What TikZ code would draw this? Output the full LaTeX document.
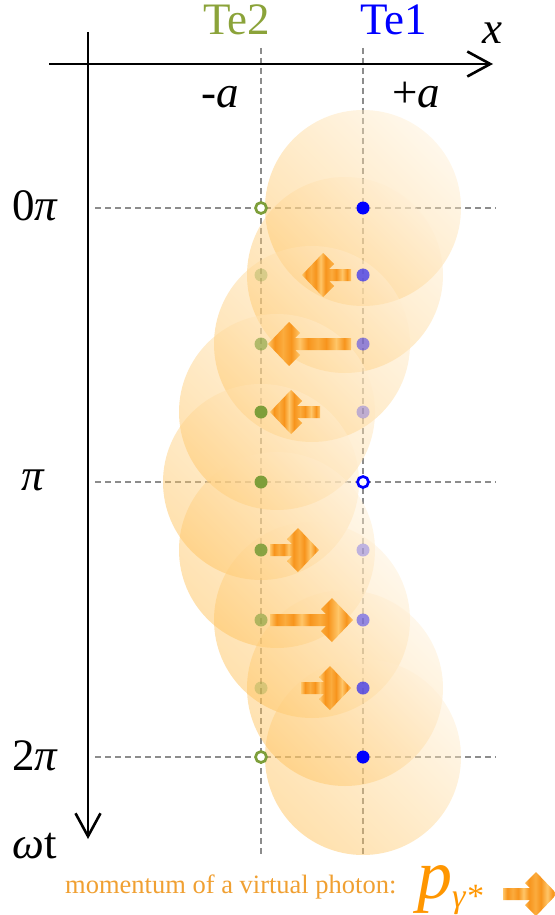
\documentclass[tikz,border=0pt]{standalone}
\usepackage{fontspec}
\setmainfont{Liberation Serif}
\usetikzlibrary{arrows.meta}
\definecolor{te2}{RGB}{125,158,58}
\definecolor{te2txt}{RGB}{139,163,58}
\definecolor{te1}{RGB}{0,0,255}
\definecolor{circA}{RGB}{255,188,75}
\definecolor{circB}{RGB}{255,238,210}
\definecolor{arA}{RGB}{247,148,28}
\definecolor{arB}{RGB}{255,198,105}
\definecolor{arC}{RGB}{251,172,62}
\definecolor{legtxt}{RGB}{240,160,50}
\definecolor{legp}{RGB}{255,150,0}
\definecolor{dashgray}{RGB}{140,140,140}
\pgfdeclarehorizontalshading{stripes}{100bp}{color(0bp)=(arB); color(25bp)=(arB); color(29bp)=(arA); color(34bp)=(arC); color(39bp)=(arA); color(44bp)=(arB); color(49bp)=(arA); color(55bp)=(arC); color(60bp)=(arA); color(66bp)=(arB); color(71bp)=(arA); color(75bp)=(arB); color(100bp)=(arB)}
\newcommand{\blockarr}[4]{% tip x, tip y, length, direction (1 right, -1 left)
  \begin{scope}[shift={(#1,#2)},xscale=#4]
    \shade[arrowshade] (0,0) -- (-21,-22) -- (-32,-11) -- (-27,-6) -- (-#3,-6) -- (-#3,6) -- (-27,6) -- (-32,11) -- (-21,22) -- cycle;
  \end{scope}}
\begin{document}
\begin{tikzpicture}[x=1pt,y=-1pt,
  axis/.style={line width=2.6pt,-{Straight Barb[length=23pt,width=25pt,line width=2.6pt]}},
  guide/.style={dashgray,line width=1.4pt,dash pattern=on 6pt off 4pt},
  cloud/.style={top color=circB,bottom color=circA,shading angle=-45,fill opacity=0.45},
  arrowshade/.style={shading=stripes},
  bdot/.style={circle,fill=te1,inner sep=0pt,minimum size=13pt},
  gdot/.style={circle,fill=te2,inner sep=0pt,minimum size=13pt},
  bopen/.style={circle,draw=te1,fill=white,line width=2.7pt,inner sep=0pt,minimum size=11pt},
  gopen/.style={circle,draw=te2,fill=white,line width=2.7pt,inner sep=0pt,minimum size=11pt},
  big/.style={inner sep=0pt,anchor=base,font=\fontsize{45}{45}\selectfont},
  legend/.style={inner sep=0pt,anchor=base west,text=legtxt,font=\fontsize{26.5}{26.5}\selectfont}]
\useasboundingbox (0,0) rectangle (554,915);
% guides
\coordinate (c2t) at (261,48); \coordinate (c2b) at (261,857);
\coordinate (c1t) at (363,48); \coordinate (c1b) at (363,857);
\coordinate (r0l) at (95,208); \coordinate (r0r) at (496,208);
\coordinate (r1l) at (95,482); \coordinate (r1r) at (496,482);
\coordinate (r2l) at (95,757); \coordinate (r2r) at (496,757);
\draw[guide] (c2t) -- (c2b);
\draw[guide] (c1t) -- (c1b);
\draw[guide] (r0l) -- (r0r);
\draw[guide] (r1l) -- (r1r);
\draw[guide] (r2l) -- (r2r);
% clouds
\foreach \cx/\cy in {363/208,345/275,312/344,277/412,261/482,277/550,312/620,345/688,363/757}
  \shade[cloud] (\cx,\cy) circle[radius=98];
% axes
\coordinate (hl) at (49,64); \coordinate (hr) at (493,64);
\coordinate (vt) at (88,32); \coordinate (vb) at (88,839);
\draw[axis] (hl) -- (hr);
\draw[axis] (vt) -- (vb);
% arrows
\blockarr{302}{275}{49}{-1}
\blockarr{268}{344}{83}{-1}
\blockarr{270}{412}{50}{-1}
\blockarr{319}{550}{49}{1}
\blockarr{353}{620}{83}{1}
\blockarr{351}{688}{50}{1}
% Te1 dots
\node[bdot] (b0) at (363,208) {};
\node[bdot,opacity=0.58] (b1) at (363,275) {};
\node[bdot,opacity=0.42] (b2) at (363,344) {};
\node[bdot,opacity=0.25] (b3) at (363,412) {};
\node[bopen] (b4) at (363,482) {};
\node[bdot,opacity=0.25] (b5) at (363,550) {};
\node[bdot,opacity=0.42] (b6) at (363,620) {};
\node[bdot,opacity=0.58] (b7) at (363,688) {};
\node[bdot] (b8) at (363,757) {};
% Te2 dots
\node[gopen] (g0) at (261,208) {};
\node[gdot,opacity=0.3] (g1) at (261,275) {};
\node[gdot,opacity=0.6] (g2) at (261,344) {};
\node[gdot] (g3) at (261,412) {};
\node[gdot] (g4) at (261,482) {};
\node[gdot,opacity=0.9] (g5) at (261,550) {};
\node[gdot,opacity=0.6] (g6) at (261,620) {};
\node[gdot,opacity=0.3] (g7) at (261,688) {};
\node[gopen] (g8) at (261,757) {};
% labels
\node[big,text=te2txt] (lte2) at (237,35) {Te2};
\node[big,text=te1] (lte1) at (394,35) {Te1};
\node[big] (lx) at (492,44) {\itshape x};
\node[big] (lma) at (220,108) {-\itshape a};
\node[big] (lpa) at (416,108) {+\itshape a};
\node[big] (l0) at (35,220) {0\itshape π};
\node[big] (l1) at (33,490) {\itshape π};
\node[big] (l2) at (35,770) {2\itshape π};
\node[big] (lwt) at (35,858) {\itshape ω\upshape t};
% legend
\node[legend] (leg) at (65,893) {momentum of a virtual photon:};
\node[inner sep=0pt,anchor=base west,text=legp] (lp) at (417,898) {\fontsize{70}{70}\selectfont\itshape p\raisebox{-9pt}{\fontsize{34}{34}\selectfont γ*}};
\blockarr{557}{894}{54}{1}
\end{tikzpicture}
\end{document}
